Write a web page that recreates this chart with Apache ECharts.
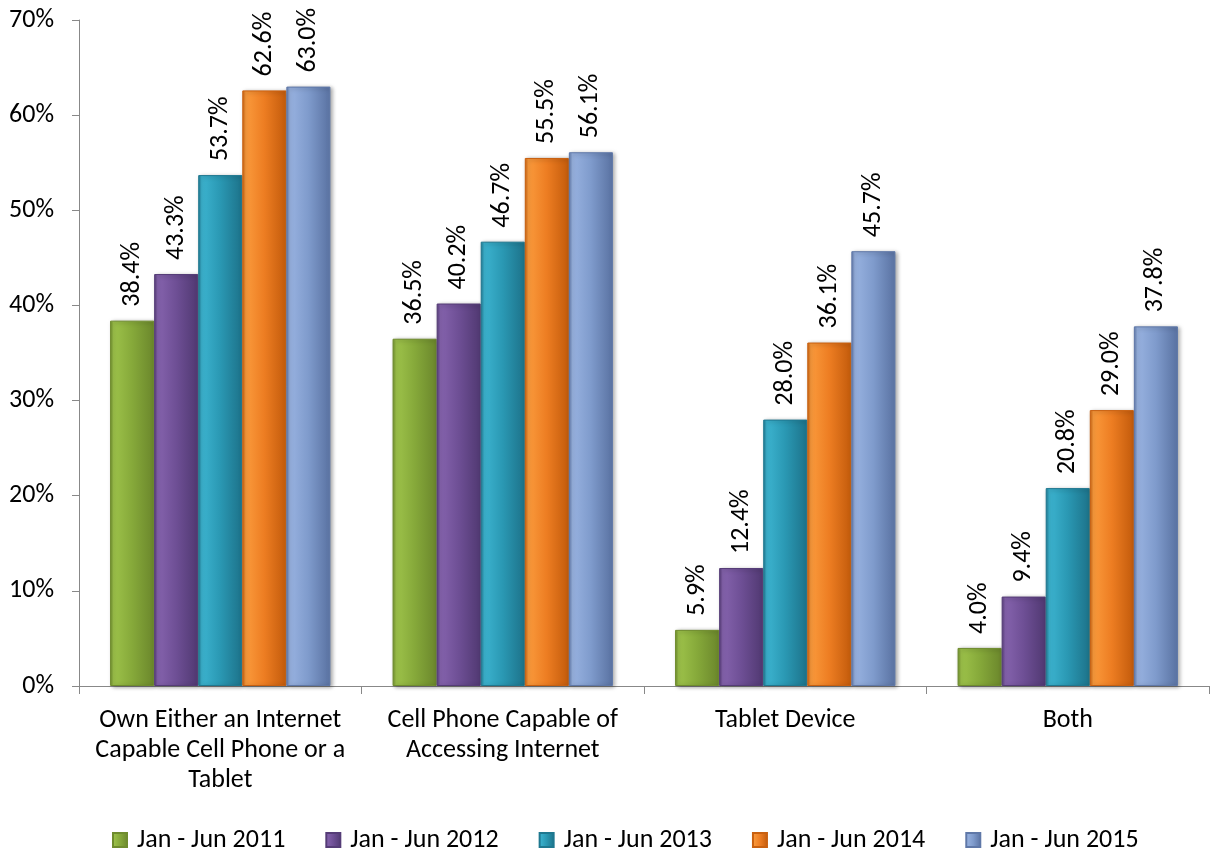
<!DOCTYPE html>
<html><head><meta charset="utf-8">
<script src="https://cdn.jsdelivr.net/npm/echarts@6/dist/echarts.min.js"></script>
<style>html,body{margin:0;padding:0;background:#fff}#c{width:1210px;height:854px}</style>
</head><body><div id="c"></div>
<script>
const categories = ["Own Either an Internet\nCapable Cell Phone or a\nTablet", "Cell Phone Capable of\nAccessing Internet", "Tablet Device", "Both"];
const seriesNames = ["Jan - Jun 2011", "Jan - Jun 2012", "Jan - Jun 2013", "Jan - Jun 2014", "Jan - Jun 2015"];
const v2011 = [38.4, 36.5, 5.9, 4.0];
const v2012 = [43.3, 40.2, 12.4, 9.4];
const v2013 = [53.7, 46.7, 28.0, 20.8];
const v2014 = [62.6, 55.5, 36.1, 29.0];
const v2015 = [63.0, 56.1, 45.7, 37.8];
const yTicks = [0, 10, 20, 30, 40, 50, 60, 70];

const values = [v2011, v2012, v2013, v2014, v2015];
const palettes = [
  ['#9dc24a', '#86a93a', '#6f8c2e'],
  ['#8563ad', '#6e4f95', '#553c77'],
  ['#3cb3cf', '#2a98b3', '#1f7890'],
  ['#fa9a3c', '#ed7d22', '#c9600f'],
  ['#98b2e0', '#7f9bcc', '#5f78a8']
];
const FONT = 'Carlito, Calibri, Lato, "Open Sans", sans-serif';
const FS = 26;
function grad(p) {
  return new echarts.graphic.LinearGradient(0, 0, 1, 0, [
    {offset: 0, color: p[2]}, {offset: 0.08, color: p[0]}, {offset: 0.5, color: p[1]}, {offset: 0.92, color: p[2]}, {offset: 1, color: p[2]}
  ]);
}
const chart = echarts.init(document.getElementById('c'), null, {renderer: 'canvas'});
chart.setOption({
  animation: false,
  textStyle: {fontFamily: FONT},
  grid: {left: 79, right: 1, top: 20, bottom: 168},
  legend: {
    top: 822, left: 107, itemWidth: 14, itemHeight: 14, itemGap: 40, icon: 'rect',
    textStyle: {fontSize: FS, color: '#000', fontFamily: FONT, padding: [0, 0, 0, 5]},
    data: seriesNames
  },
  xAxis: {
    type: 'category', data: categories,
    axisLine: {lineStyle: {color: '#888', width: 1}},
    axisTick: {show: true, length: 8, lineStyle: {color: '#888'}},
    axisLabel: {fontSize: FS, color: '#000', lineHeight: 30, margin: 19, interval: 0, fontFamily: FONT}
  },
  yAxis: {
    type: 'value', min: 0, max: 70, interval: 10,
    splitLine: {show: false},
    axisLine: {show: true, lineStyle: {color: '#888'}},
    axisTick: {show: true, length: 7, lineStyle: {color: '#888'}},
    axisLabel: {fontSize: FS, color: '#000', margin: 25, fontFamily: FONT,
      formatter: v => yTicks.includes(v) ? v + '%' : ''}
  },
  series: seriesNames.map((n, i) => ({
    name: n, type: 'bar', data: values[i],
    barGap: '0%', barCategoryGap: '22%',
    itemStyle: {color: grad(palettes[i]), borderColor: palettes[i][2], borderWidth: 1,
      shadowColor: 'rgba(0,0,0,0.35)', shadowBlur: 4, shadowOffsetX: 2, shadowOffsetY: 1},
    label: {show: true, position: 'top', rotate: 90, align: 'left', verticalAlign: 'middle',
      distance: 14, fontSize: FS, color: '#000', fontFamily: FONT,
      formatter: p => p.value.toFixed(1) + '%'}
  }))
});
</script></body></html>
